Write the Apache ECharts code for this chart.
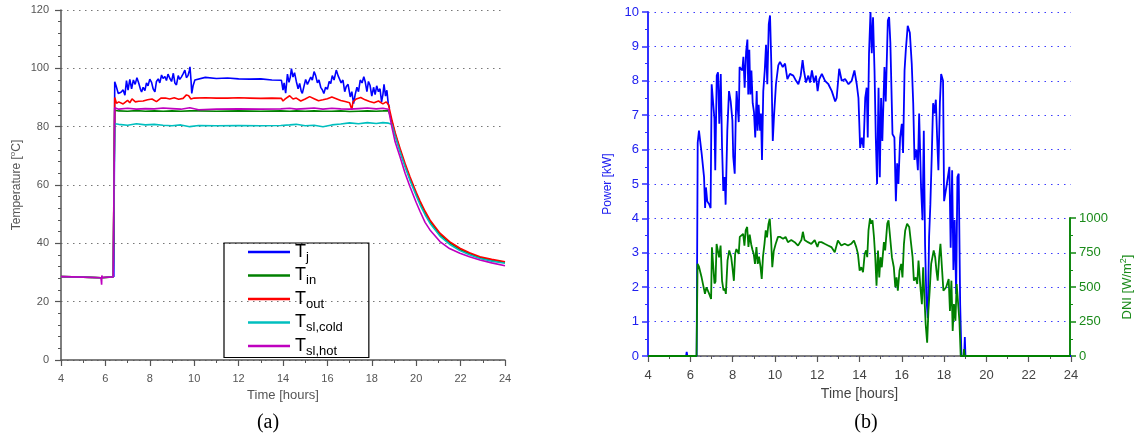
<!DOCTYPE html>
<html>
<head>
<meta charset="utf-8">
<script src="https://cdn.jsdelivr.net/npm/echarts@6/dist/echarts.min.js"></script>
<style>
  html, body { margin: 0; padding: 0; background: #fff; }
  #chart { width: 1135px; height: 440px; }
</style>
</head>
<body>
<div id="chart"></div>
<script>
// (a) temperatures, hours vs degC
const tjTime = [6.38, 6.42, 6.48, 6.58, 6.70, 6.80, 6.88, 6.95, 7.02, 7.10, 7.18, 7.26, 7.34, 7.42, 7.50, 7.58, 7.63, 7.70, 7.78, 7.85, 7.92, 8.00, 8.08, 8.15, 8.23, 8.30, 8.38, 8.45, 8.53, 8.60, 8.68, 8.75, 8.82, 8.90, 8.98, 9.06, 9.13, 9.20, 9.28, 9.35, 9.42, 9.50, 9.58, 9.65, 9.72, 9.78, 9.81, 9.86, 9.89, 9.95, 10.03, 10.11, 10.5, 11.0, 11.5, 12.0, 12.5, 13.0, 13.5, 13.93, 14.0, 14.05, 14.12, 14.2, 14.27, 14.33, 14.38, 14.45, 14.52, 14.6, 14.68, 14.75, 14.82, 14.87, 14.95, 15.02, 15.1, 15.18, 15.25, 15.32, 15.4, 15.47, 15.55, 15.62, 15.7, 15.78, 15.84, 15.92, 16.0, 16.08, 16.15, 16.22, 16.3, 16.4, 16.48, 16.55, 16.62, 16.7, 16.78, 16.85, 16.93, 17.03, 17.1, 17.18, 17.25, 17.33, 17.4, 17.48, 17.56, 17.64, 17.7, 17.78, 17.85, 17.92, 18.0, 18.08, 18.15, 18.22, 18.3, 18.37, 18.44, 18.5, 18.55, 18.62, 18.68, 18.74, 18.8];
const tjVals = [28.5, 95.4, 94.0, 91.4, 91.8, 92.6, 90.8, 95.8, 92.5, 96.2, 93.0, 96.0, 94.5, 96.8, 95.0, 92.8, 91.9, 93.5, 92.4, 95.0, 94.0, 96.3, 95.2, 93.0, 91.9, 95.5, 96.4, 95.0, 97.7, 96.5, 97.2, 95.8, 98.0, 96.6, 95.5, 98.3, 95.0, 94.3, 97.5, 96.2, 97.0, 98.1, 99.4, 96.8, 97.5, 99.2, 100.5, 95.5, 91.4, 94.0, 96.0, 96.6, 96.9, 96.5, 96.7, 96.4, 96.3, 96.4, 96.0, 95.9, 92.5, 95.0, 91.5, 98.0, 95.2, 97.0, 99.9, 97.0, 98.5, 95.5, 93.0, 94.8, 92.2, 91.4, 94.0, 96.2, 94.5, 95.0, 97.0, 96.0, 98.9, 97.5, 95.0, 96.0, 93.5, 92.5, 91.4, 93.5, 92.8, 95.5, 94.8, 97.5, 96.0, 99.4, 97.5, 97.0, 95.0, 96.0, 92.0, 93.8, 94.5, 90.2, 92.0, 87.9, 91.0, 93.5, 92.0, 96.0, 95.0, 97.1, 95.5, 92.0, 95.5, 94.2, 90.5, 93.5, 91.0, 94.0, 92.0, 93.0, 88.5, 91.0, 94.5, 90.5, 92.5, 87.9, 86.5];

const toutTime = [4, 5, 5.8, 6.35, 6.42, 6.5, 6.6, 6.8, 7.0, 7.1, 7.2, 7.35, 7.5, 7.7, 7.9, 8.1, 8.3, 8.5, 8.7, 8.9, 9.1, 9.3, 9.5, 9.65, 9.75, 9.85, 10.0, 10.5, 11, 11.5, 12, 12.5, 13, 13.5, 13.93, 14.0, 14.1, 14.3, 14.45, 14.6, 14.8, 15.0, 15.2, 15.4, 15.6, 15.8, 16.0, 16.2, 16.4, 16.6, 16.8, 17.0, 17.1, 17.15, 17.3, 17.5, 17.7, 17.9, 18.1, 18.3, 18.5, 18.65, 18.75, 18.9, 19.05, 19.27, 19.5, 19.72, 20.0, 20.17, 20.4, 20.62, 21.07, 21.5, 21.97, 22.4, 22.87, 23.4, 24];
const toutVals = [28.6, 28.4, 28.2, 28.5, 90.0, 88.0, 88.5, 87.8, 89.0, 88.2, 89.5, 88.5, 88.7, 88.8, 89.2, 89.5, 88.6, 89.8, 89.8, 89.5, 89.9, 89.4, 89.7, 90.9, 90.6, 89.5, 89.8, 89.9, 89.8, 89.8, 89.9, 89.8, 89.7, 89.8, 89.7, 88.8, 89.5, 90.6, 89.5, 89.8, 88.8, 89.5, 90.3, 89.6, 88.9, 89.2, 89.6, 90.2, 89.6, 89.0, 88.6, 88.2, 85.8, 88.5, 89.5, 90.0, 89.2, 88.6, 88.2, 88.8, 87.8, 88.5, 87.5, 82.5, 78.0, 72.6, 67.4, 62.8, 57.5, 54.6, 51.0, 48.0, 43.5, 40.6, 38.3, 36.8, 35.4, 34.5, 33.7];

// shared time base for T_in, T_sl,cold, T_sl,hot
const tempTime = [4, 5, 5.8, 5.83, 5.84, 5.86, 6.35, 6.42, 6.6, 7, 7.4, 7.8, 8.2, 8.6, 9, 9.4, 9.8, 10.2, 11, 12, 13, 13.9, 14.3, 14.6, 15, 15.4, 15.8, 16.2, 16.6, 17, 17.4, 17.8, 18.2, 18.5, 18.75, 18.9, 19.05, 19.27, 19.5, 19.72, 20, 20.17, 20.4, 20.62, 21.07, 21.5, 21.97, 22.4, 22.87, 23.4, 24];
const tinVals = [28.6, 28.4, 28.2, 28.2, 28.2, 28.2, 28.5, 85.6, 85.4, 85.3, 85.5, 85.3, 85.4, 85.3, 85.4, 85.3, 85.4, 85.4, 85.3, 85.4, 85.3, 85.4, 85.3, 85.4, 85.3, 85.4, 85.3, 85.3, 85.4, 85.2, 85.3, 85.4, 85.3, 85.4, 85.5, 82.0, 77.5, 72.0, 66.8, 62.2, 57.0, 54.1, 50.5, 47.5, 43.0, 40.2, 37.9, 36.5, 35.1, 34.2, 33.5];
const tcoldVals = [28.6, 28.4, 28.2, 28.2, 28.2, 28.2, 28.5, 81.0, 80.8, 80.5, 81.0, 80.6, 80.8, 80.5, 80.3, 80.6, 80.0, 80.4, 80.3, 80.4, 80.3, 80.4, 80.6, 80.8, 80.3, 80.5, 80.0, 80.6, 80.9, 81.3, 81.0, 81.4, 81.1, 81.4, 81.2, 80.8, 76.8, 71.4, 66.2, 61.6, 56.3, 53.3, 49.8, 46.9, 42.5, 39.7, 37.5, 36.1, 34.8, 33.9, 33.2];
const thotVals = [28.6, 28.4, 28.2, 25.8, 29.0, 28.3, 28.5, 86.5, 86.0, 86.3, 86.0, 86.2, 86.1, 86.4, 86.2, 86.0, 86.5, 85.8, 86.0, 86.1, 86.0, 86.1, 86.3, 86.0, 86.2, 86.4, 86.0, 86.3, 86.1, 86.0, 86.2, 86.4, 86.1, 86.3, 86.0, 80.0, 74.8, 69.7, 64.0, 59.4, 54.0, 51.0, 47.2, 44.6, 40.6, 38.2, 36.6, 35.4, 34.3, 33.3, 32.3];

// (b) power [kW] and DNI [W/m2]
const powerTime = [4.0, 5.8, 5.83, 5.86, 6.30, 6.35, 6.41, 6.54, 6.65, 6.70, 6.74, 6.80, 6.90, 6.96, 7.01, 7.09, 7.14, 7.18, 7.25, 7.31, 7.37, 7.44, 7.50, 7.56, 7.63, 7.67, 7.75, 7.83, 7.91, 7.99, 8.03, 8.10, 8.15, 8.19, 8.24, 8.29, 8.33, 8.40, 8.46, 8.51, 8.57, 8.64, 8.70, 8.74, 8.79, 8.84, 8.89, 8.95, 9.01, 9.07, 9.14, 9.18, 9.23, 9.30, 9.34, 9.39, 9.45, 9.52, 9.58, 9.64, 9.71, 9.77, 9.83, 9.90, 9.96, 10.05, 10.16, 10.24, 10.37, 10.48, 10.59, 10.71, 10.87, 11.0, 11.11, 11.22, 11.31, 11.37, 11.47, 11.58, 11.66, 11.75, 11.85, 11.94, 12.02, 12.10, 12.22, 12.37, 12.53, 12.69, 12.85, 12.92, 13.04, 13.16, 13.32, 13.48, 13.63, 13.76, 13.87, 13.95, 14.03, 14.11, 14.19, 14.27, 14.34, 14.39, 14.45, 14.52, 14.58, 14.64, 14.71, 14.77, 14.83, 14.90, 14.96, 15.02, 15.08, 15.18, 15.24, 15.34, 15.40, 15.46, 15.56, 15.65, 15.72, 15.78, 15.84, 15.92, 16.00, 16.06, 16.13, 16.19, 16.28, 16.38, 16.47, 16.54, 16.60, 16.69, 16.76, 16.82, 16.91, 16.98, 17.04, 17.10, 17.16, 17.23, 17.29, 17.35, 17.42, 17.48, 17.54, 17.61, 17.67, 17.73, 17.80, 17.86, 17.95, 18.00, 18.13, 18.25, 18.31, 18.38, 18.44, 18.50, 18.57, 18.63, 18.69, 18.76, 18.82, 18.95, 18.98, 19.01, 24.0];
const powerVals = [0, 0, 0.12, 0, 0, 6.2, 6.55, 5.87, 5.2, 4.3, 4.9, 4.5, 4.4, 4.3, 7.9, 7.95, 6.9, 5.4, 8.15, 8.25, 6.75, 8.2, 6.1, 4.8, 5.2, 4.4, 6.55, 7.7, 7.4, 6.85, 5.8, 5.3, 6.95, 7.7, 7.75, 6.8, 8.4, 8.45, 8.3, 8.7, 7.8, 8.85, 9.2, 7.6, 8.9, 7.6, 8.3, 7.35, 7.1, 6.35, 7.7, 6.55, 7.3, 6.55, 7.05, 5.7, 7.7, 8.3, 9.05, 7.9, 9.65, 9.9, 8.5, 6.25, 7.0, 7.9, 8.45, 8.55, 8.4, 8.5, 8.05, 8.2, 8.15, 8.0, 7.9, 8.15, 8.6, 8.3, 7.95, 8.15, 7.95, 8.3, 7.95, 8.15, 7.7, 8.05, 8.2, 8.0, 7.9, 7.7, 7.4, 7.5, 8.35, 8.0, 8.05, 7.9, 8.0, 8.3, 7.9, 7.5, 6.05, 6.35, 6.05, 7.5, 7.8, 6.35, 8.8, 10.0, 8.8, 9.85, 8.3, 6.35, 5.0, 7.8, 5.2, 7.5, 6.25, 8.4, 7.4, 9.75, 9.85, 9.1, 6.45, 6.35, 4.5, 5.6, 5.0, 6.35, 6.75, 5.9, 8.3, 8.9, 9.6, 9.4, 8.5, 7.35, 5.7, 6.0, 5.4, 7.05, 4.9, 3.95, 6.55, 3.25, 1.7, 1.1, 3.45, 4.4, 5.9, 7.35, 7.05, 7.45, 6.35, 5.4, 7.35, 8.2, 8.0, 4.5, 5.0, 5.5, 3.15, 5.4, 2.5, 3.95, 1.8, 5.2, 5.3, 1.5, 0, 0, 0.55, 0, 0];

const dniTime = [4.0, 6.30, 6.35, 6.41, 6.54, 6.70, 6.77, 6.90, 6.99, 7.03, 7.09, 7.15, 7.20, 7.25, 7.33, 7.37, 7.44, 7.51, 7.58, 7.64, 7.69, 7.77, 7.85, 7.94, 8.00, 8.07, 8.13, 8.19, 8.26, 8.30, 8.35, 8.43, 8.51, 8.57, 8.63, 8.70, 8.76, 8.82, 8.89, 8.95, 9.01, 9.07, 9.14, 9.20, 9.26, 9.33, 9.39, 9.45, 9.52, 9.58, 9.64, 9.71, 9.77, 9.83, 9.89, 9.96, 10.05, 10.16, 10.27, 10.40, 10.52, 10.63, 10.79, 10.95, 11.11, 11.27, 11.34, 11.42, 11.58, 11.74, 11.90, 12.03, 12.10, 12.22, 12.37, 12.53, 12.69, 12.85, 13.00, 13.08, 13.16, 13.32, 13.48, 13.63, 13.76, 13.87, 13.95, 14.03, 14.11, 14.19, 14.27, 14.34, 14.39, 14.45, 14.52, 14.58, 14.64, 14.71, 14.77, 14.83, 14.90, 14.96, 15.02, 15.08, 15.18, 15.24, 15.34, 15.40, 15.46, 15.56, 15.65, 15.72, 15.78, 15.84, 15.92, 16.00, 16.06, 16.13, 16.19, 16.28, 16.38, 16.47, 16.54, 16.60, 16.69, 16.76, 16.82, 16.91, 16.98, 17.04, 17.10, 17.16, 17.23, 17.29, 17.35, 17.42, 17.48, 17.54, 17.61, 17.67, 17.73, 17.80, 17.86, 17.95, 18.00, 18.13, 18.25, 18.31, 18.38, 18.44, 18.50, 18.57, 18.63, 18.69, 18.76, 18.82, 18.95, 18.98, 19.01, 24.0];
const dniVals = [0, 0, 668, 650, 570, 450, 498, 450, 413, 788, 800, 525, 540, 812, 825, 715, 800, 545, 475, 490, 450, 693, 765, 720, 643, 545, 740, 775, 775, 740, 863, 850, 885, 800, 910, 935, 790, 880, 810, 770, 740, 668, 790, 668, 720, 650, 558, 720, 812, 910, 860, 957, 995, 860, 643, 760, 812, 863, 863, 850, 863, 825, 840, 825, 800, 840, 900, 840, 825, 812, 840, 790, 825, 825, 813, 801, 789, 752, 837, 850, 801, 813, 801, 813, 837, 789, 740, 619, 643, 607, 740, 765, 716, 910, 995, 959, 983, 862, 716, 510, 765, 570, 716, 643, 825, 765, 959, 983, 886, 716, 643, 498, 570, 473, 619, 667, 570, 813, 910, 959, 935, 813, 716, 546, 570, 522, 692, 498, 376, 643, 425, 231, 97, 328, 473, 667, 716, 765, 716, 619, 546, 716, 813, 825, 473, 498, 558, 327, 546, 182, 376, 255, 522, 535, 250, 0, 0, 50, 0, 0];

const legendNames = ['Tj', 'Tin', 'Tout', 'Tsl,cold', 'Tsl,hot'];
const legendSubs = { 'Tj': 'j', 'Tin': 'in', 'Tout': 'out', 'Tsl,cold': 'sl,cold', 'Tsl,hot': 'sl,hot' };

function pairs(xs, ys) {
    return xs.map((x, i) => [x, ys[i]]);
}

const FONT = '"Liberation Sans", Arial, sans-serif';
const GRAY = '#555';
const BLUE = '#0000ff';
const GREEN = '#008000';

function tempLine(name, color, data) {
    return {
        name: name, type: 'line', xAxisIndex: 0, yAxisIndex: 0,
        data: data, symbol: 'none', lineStyle: { color: color, width: 1.6 },
        itemStyle: { color: color }
    };
}

let option = {
    animation: false,
    textStyle: { fontFamily: FONT },
    grid: [
        { left: 61, top: 10, width: 444, height: 350 },   // (a)
        { left: 648, top: 12, width: 423, height: 344 },  // (b) power
        { left: 648, top: 218, width: 423, height: 138 }  // (b) DNI
    ],
    legend: {
        orient: 'vertical',
        left: 224, top: 243,
        icon: 'rect',
        itemWidth: 42, itemHeight: 2.5, itemGap: 3,
        padding: [0, 26, 0, 24],
        borderColor: '#000', borderWidth: 1.2,
        data: legendNames,
        formatter: name => '{t|T}{s|' + legendSubs[name] + '}',
        textStyle: {
            rich: {
                t: { fontSize: 18, fontFamily: FONT, color: '#000' },
                s: { fontSize: 13, fontFamily: FONT, color: '#000', padding: [10, 0, 0, 0] }
            }
        }
    },
    xAxis: [
        {
            gridIndex: 0, type: 'value', min: 4, max: 24, interval: 2,
            name: 'Time [hours]', nameLocation: 'middle', nameGap: 27,
            nameTextStyle: { color: GRAY, fontSize: 13, fontFamily: FONT },
            axisLine: { lineStyle: { color: GRAY, width: 1.5 } },
            axisTick: { length: 6, lineStyle: { color: GRAY, width: 1.2 } },
            minorTick: { show: true, splitNumber: 2, length: 3, lineStyle: { color: GRAY } },
            axisLabel: { color: GRAY, fontSize: 11, margin: 13 },
            splitLine: { show: false }
        },
        {
            gridIndex: 1, type: 'value', min: 4, max: 24, interval: 2,
            name: 'Time [hours]', nameLocation: 'middle', nameGap: 30,
            nameTextStyle: { color: '#444', fontSize: 14, fontFamily: FONT },
            axisLine: { lineStyle: { color: GRAY, width: 1.5 } },
            axisTick: { length: 6, lineStyle: { color: GRAY, width: 1.2 } },
            minorTick: { show: true, splitNumber: 2, length: 3, lineStyle: { color: GRAY } },
            axisLabel: { color: '#444', fontSize: 13, margin: 13 },
            splitLine: { show: false }
        },
        {
            gridIndex: 2, type: 'value', min: 4, max: 24, show: false
        }
    ],
    yAxis: [
        {
            gridIndex: 0, type: 'value', min: 0, max: 120, interval: 20,
            name: 'Temperature [{sup|o}C]', nameLocation: 'middle', nameGap: 37,
            nameTextStyle: {
                color: GRAY, fontSize: 12, fontFamily: FONT,
                rich: { sup: { fontSize: 8, color: GRAY, padding: [0, 0, 7, 0] } }
            },
            axisLine: { show: true, lineStyle: { color: GRAY, width: 1.5 } },
            axisTick: { show: true, length: 6, lineStyle: { color: GRAY, width: 1.2 } },
            minorTick: { show: true, splitNumber: 5, length: 3, lineStyle: { color: GRAY } },
            axisLabel: { color: GRAY, fontSize: 11, margin: 12 },
            splitLine: { show: true, lineStyle: { color: '#777', type: [1.5, 4.5], width: 1 } }
        },
        {
            gridIndex: 1, type: 'value', min: 0, max: 10, interval: 1,
            name: 'Power [kW]', nameLocation: 'middle', nameGap: 34,
            nameTextStyle: { color: '#2020f0', fontSize: 12, fontFamily: FONT },
            axisLine: { show: true, lineStyle: { color: '#3030ff', width: 2 } },
            axisTick: { show: true, length: 6, lineStyle: { color: '#3030ff', width: 1.5 } },
            minorTick: { show: true, splitNumber: 2, length: 3, lineStyle: { color: '#3030ff' } },
            axisLabel: { color: '#2020f0', fontSize: 13, margin: 9 },
            splitLine: { show: true, lineStyle: { color: '#3b3bff', type: [1.5, 5], width: 1 } }
        },
        {
            gridIndex: 2, type: 'value', min: 0, max: 1000, interval: 250, position: 'right',
            name: 'DNI [W/m{sup|2}]', nameLocation: 'middle', nameGap: 49,
            nameTextStyle: {
                color: '#1a8a1a', fontSize: 13, fontFamily: FONT,
                rich: { sup: { fontSize: 9, color: '#1a8a1a', padding: [0, 0, 8, 0] } }
            },
            axisLine: { show: true, lineStyle: { color: '#118811', width: 2 } },
            axisTick: { show: true, length: 6, lineStyle: { color: '#118811', width: 1.5 } },
            minorTick: { show: true, splitNumber: 2, length: 3, lineStyle: { color: '#118811' } },
            axisLabel: { color: '#1a8a1a', fontSize: 13, margin: 9, formatter: v => String(v) },
            splitLine: { show: false }
        }
    ],
    graphic: [
        { type: 'text', style: { text: '(a)', x: 268, y: 423, align: 'center', verticalAlign: 'middle', font: '20px "Liberation Serif", "Times New Roman", serif', fill: '#000' } },
        { type: 'text', style: { text: '(b)', x: 866, y: 423, align: 'center', verticalAlign: 'middle', font: '20px "Liberation Serif", "Times New Roman", serif', fill: '#000' } }
    ],
    series: [
        tempLine('Tj', BLUE, pairs(tjTime, tjVals)),
        tempLine('Tin', GREEN, pairs(tempTime, tinVals)),
        tempLine('Tout', '#ff0000', pairs(toutTime, toutVals)),
        tempLine('Tsl,cold', '#00bfbf', pairs(tempTime, tcoldVals)),
        tempLine('Tsl,hot', '#bf00bf', pairs(tempTime, thotVals)),
        {
            name: 'Power', type: 'line', xAxisIndex: 1, yAxisIndex: 1,
            data: pairs(powerTime, powerVals), symbol: 'none',
            lineStyle: { color: BLUE, width: 1.8 }
        },
        {
            name: 'DNI', type: 'line', xAxisIndex: 2, yAxisIndex: 2,
            data: pairs(dniTime, dniVals), symbol: 'none',
            lineStyle: { color: GREEN, width: 1.8 }
        }
    ]
};

let dom = echarts.init(document.getElementById('chart'));
dom.setOption(option);
</script>
</body>
</html>
